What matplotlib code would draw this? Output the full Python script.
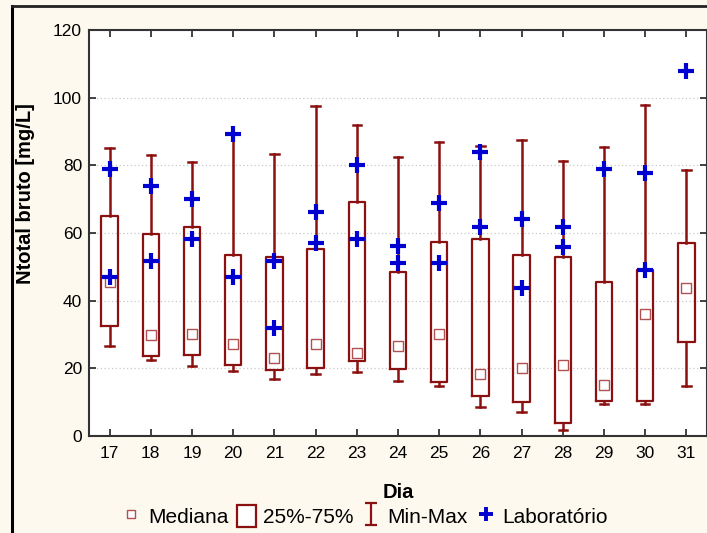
import matplotlib
matplotlib.use("Agg")
import matplotlib.pyplot as plt
import numpy as np
from matplotlib.lines import Line2D
from matplotlib.patches import Rectangle
from matplotlib.path import Path

plt.rcParams['font.family'] = ['Liberation Sans', 'DejaVu Sans']

days = [17, 18, 19, 20, 21, 22, 23, 24, 25, 26, 27, 28, 29, 30, 31]
minimum = [26.5, 22.4, 20.8, 19.2, 16.7, 18.2, 18.8, 16.3, 14.7, 8.6, 7.2, 1.7, 9.4, 9.6, 14.9]
q1 = [32.5, 23.6, 23.8, 20.9, 19.5, 20.1, 22.3, 19.7, 15.9, 11.9, 10.1, 3.8, 10.2, 10.2, 27.8]
median = [45.6, 29.9, 30.2, 27.3, 23.2, 27.1, 24.6, 26.7, 30.2, 18.3, 20.1, 21.1, 15.2, 36.2, 43.8]
q3 = [65.1, 59.7, 61.9, 53.5, 53.0, 55.2, 69.3, 48.6, 57.4, 58.1, 53.6, 53.0, 45.6, 49.2, 57.0]
maximum = [85.0, 83.1, 81.1, 89.2, 83.3, 97.5, 92.0, 82.5, 87.0, 85.6, 87.5, 81.3, 85.4, 97.7, 78.6]
lab_a = [78.9, 74.0, 70.0, 89.2, 51.8, 66.1, 80.0, 56.2, 69.0, 83.8, 64.0, 61.9, 79.0, 77.8, 108.0]
lab_b = [46.9, 51.8, 58.1, 46.9, 31.8, 57.0, 58.1, 51.2, 51.2, 61.9, 43.7, 56.0, np.nan, 49.1, np.nan]
y_ticks = [0, 20, 40, 60, 80, 100, 120]

box_color = '#8B1010'
med_color = '#B05050'
lab_color = '#0000D0'
bg = '#FEF9EE'

fig = plt.figure(figsize=(7.07, 5.33), dpi=100, facecolor=bg)
ax = fig.add_axes([89/707, 1-436/533, (707-89)/707, (436-30)/533])
ax.set_facecolor('white')

stats = []
for i in range(len(days)):
    stats.append(dict(med=median[i], q1=q1[i], q3=q3[i],
                      whislo=minimum[i], whishi=maximum[i], fliers=[]))

ax.bxp(stats, positions=days, widths=0.4, capwidths=0.2, showfliers=False,
       boxprops=dict(color=box_color, linewidth=1.6),
       whiskerprops=dict(color=box_color, linewidth=1.8),
       capprops=dict(color=box_color, linewidth=1.8),
       medianprops=dict(visible=False), manage_ticks=False, zorder=3)

ax.plot(days, median, linestyle='none', marker='s', markersize=6.5,
        markerfacecolor='white', markeredgecolor=med_color, markeredgewidth=1.0, zorder=4)
ax.plot(days, lab_a, linestyle='none', marker='+', markersize=11,
        markeredgewidth=3.0, color=lab_color, zorder=5)
ax.plot(days, lab_b, linestyle='none', marker='+', markersize=11,
        markeredgewidth=3.0, color=lab_color, zorder=5)

ax.set_xlim(16.5, 31.5)
ax.set_ylim(0, 120)
ax.set_xticks(days)
ax.set_xticklabels([str(d) for d in days])
ax.set_yticks(y_ticks)
ax.tick_params(axis='both', direction='in', length=5, width=1.2, colors='#222222',
               labelsize=12.5, labelcolor='black', top=True, right=True)
ax.tick_params(axis='x', pad=7)
ax.tick_params(axis='y', pad=5)
for s in ax.spines.values():
    s.set_color('#333333')
    s.set_linewidth(1.5)

ax.grid(axis='y', color='#C8C8C8', linestyle=(0, (1, 2)), linewidth=0.9, zorder=0)
ax.set_axisbelow(True)

ax.set_ylabel('Ntotal bruto [mg/L]', fontsize=14.5, fontweight='bold')
ax.yaxis.set_label_coords(-0.087, 0.596)
ax.set_xlabel('Dia', fontsize=14.5, fontweight='bold')
ax.xaxis.set_label_coords(0.5, -0.116)

# outer frame (top and left visible)
fig.add_artist(Line2D([12/707, 12/707], [0, 1-6/533], transform=fig.transFigure,
                      color='black', linewidth=2.2))
fig.add_artist(Line2D([12/707, 1], [1-6/533, 1-6/533], transform=fig.transFigure,
                      color='#222222', linewidth=2.0))

# legend
ibeam = Path([(-0.5, 1), (0.5, 1), (0, 1), (0, -1), (-0.5, -1), (0.5, -1)],
             [Path.MOVETO, Path.LINETO, Path.MOVETO, Path.LINETO, Path.MOVETO, Path.LINETO])
h_med = Line2D([], [], linestyle='none', marker='s', markersize=6,
               markerfacecolor='white', markeredgecolor=med_color, markeredgewidth=1.0)
h_box = Rectangle((0, 0), 1, 1, facecolor='white', edgecolor=box_color, linewidth=1.6)
h_mm = Line2D([], [], linestyle='none', marker=ibeam, markersize=16,
              markerfacecolor='none', markeredgecolor=box_color, markeredgewidth=1.6)
h_lab = Line2D([], [], linestyle='none', marker='+', markersize=10,
               markeredgewidth=2.8, color=lab_color)
leg = fig.legend([h_med, h_box, h_mm, h_lab], ['Mediana', '25%-75%', 'Min-Max', 'Laboratório'],
                 loc='center', bbox_to_anchor=(365/707, 1-516/533), ncol=4,
                 frameon=False, fontsize=15, handlelength=0.9, handleheight=1.2,
                 handletextpad=0.35, columnspacing=0.4, borderpad=0)

fig.savefig('out.png', dpi=100, facecolor=bg)
